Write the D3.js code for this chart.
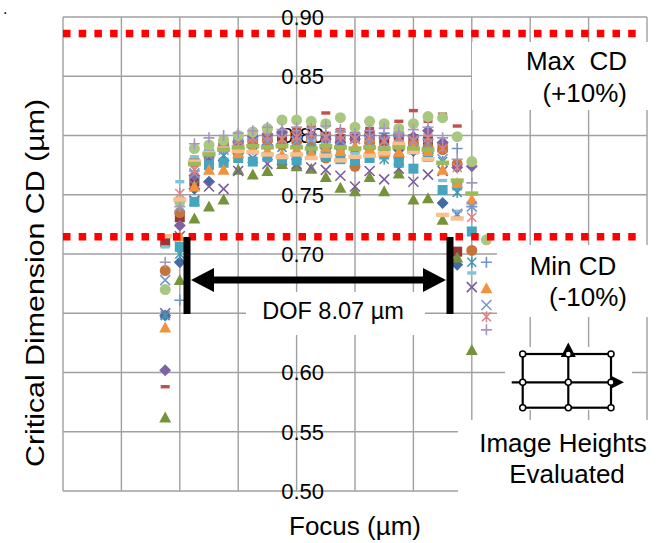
<!DOCTYPE html>
<html>
<head>
<meta charset="utf-8">
<script src="https://cdn.jsdelivr.net/npm/d3@7"></script>
<style>
  body { margin: 0; background: #fff; }
  text { font-family: "Liberation Sans", Arial, sans-serif; fill: #000; white-space: pre; }
</style>
</head>
<body>
<svg id="chart" width="662" height="543"></svg>
<script>
// focus steps (µm) and value axis ticks
const focusSteps = [-4.5, -4, -3.5, -3, -2.5, -2, -1.5, -1, -0.5, 0, 0.5, 1, 1.5, 2, 2.5, 3, 3.5, 4, 4.5, 5, 5.5, 6, 6.5];
const yTicks = [0.50, 0.55, 0.60, 0.65, 0.70, 0.75, 0.80, 0.85, 0.90];
const maxCD = 0.886;
const minCD = 0.7145;
const dofText = "DOF 8.07 µm";

// CD (µm) per image height, one value per focus step (null = not plotted)
const ih01 = [0.648, 0.693, 0.755, 0.761, 0.779, 0.785, 0.790, 0.792, 0.793, 0.791, 0.790, 0.789, 0.790, 0.788, 0.789, 0.790, 0.788, 0.787, 0.785, 0.743, 0.691, null, null];
const ih02 = [0.710, 0.731, 0.761, 0.782, 0.790, 0.795, 0.797, 0.798, 0.799, 0.800, 0.798, 0.799, 0.797, 0.799, 0.800, 0.796, 0.798, 0.797, 0.795, 0.790, 0.702, null, null];
const ih03 = [0.562, 0.678, 0.730, 0.740, 0.746, 0.771, 0.767, 0.770, 0.776, 0.774, 0.772, 0.765, 0.756, 0.753, 0.765, 0.753, 0.768, 0.746, 0.747, 0.729, 0.697, 0.619, null];
const ih04 = [0.650, 0.715, 0.745, 0.757, 0.755, 0.770, 0.781, 0.776, 0.779, 0.776, 0.773, 0.771, 0.766, 0.757, 0.770, 0.763, 0.772, 0.761, 0.767, 0.770, 0.733, 0.672, null];
const ih05 = [0.648, 0.700, 0.758, 0.775, 0.783, 0.786, 0.788, 0.786, 0.790, 0.787, 0.785, 0.789, 0.786, 0.782, 0.787, 0.780, 0.786, 0.788, 0.786, 0.778, 0.752, 0.693, null];
const ih06 = [0.686, 0.735, 0.779, 0.786, 0.792, 0.794, 0.795, 0.796, 0.792, 0.795, 0.796, 0.781, 0.790, 0.774, 0.794, 0.784, 0.782, 0.793, 0.790, 0.788, 0.776, 0.703, null];
const ih07 = [null, 0.661, 0.770, 0.781, 0.789, 0.793, 0.797, 0.800, 0.802, 0.803, 0.801, 0.800, 0.803, 0.800, 0.801, 0.802, 0.799, 0.800, 0.797, 0.794, 0.789, 0.740, 0.693];
const ih08 = [0.588, 0.745, 0.775, 0.792, 0.797, 0.800, 0.804, 0.806, 0.812, 0.806, 0.808, 0.819, 0.805, 0.808, 0.806, 0.807, 0.812, 0.821, 0.812, 0.818, 0.808, null, null];
const ih09 = [0.706, 0.761, 0.782, 0.788, 0.795, 0.799, 0.801, 0.803, 0.800, 0.798, 0.796, 0.793, 0.786, 0.785, 0.784, 0.790, 0.795, 0.788, 0.784, 0.762, 0.736, 0.684, null];
const ih10 = [0.602, 0.724, 0.766, 0.783, 0.791, 0.795, 0.799, 0.801, 0.803, 0.799, 0.800, 0.797, 0.794, 0.797, 0.800, 0.798, 0.801, 0.799, 0.804, 0.794, 0.773, 0.774, null];
const ih11 = [null, 0.706, 0.744, 0.775, 0.777, 0.781, 0.778, 0.782, 0.780, 0.779, 0.788, 0.782, 0.780, 0.779, 0.781, 0.784, 0.777, 0.772, 0.782, 0.754, 0.758, 0.719, null];
const ih12 = [0.638, 0.715, 0.757, 0.771, 0.771, 0.785, 0.789, 0.787, 0.784, 0.788, 0.785, 0.790, 0.787, 0.791, 0.789, 0.786, 0.786, 0.790, 0.787, 0.771, 0.760, 0.746, 0.671];
const ih13 = [0.678, 0.740, 0.768, 0.783, 0.788, 0.792, 0.794, 0.795, 0.797, 0.795, 0.796, 0.798, 0.796, 0.797, 0.795, 0.796, 0.797, 0.795, 0.793, 0.780, 0.734, 0.740, 0.657];
const ih14 = [null, 0.751, 0.771, 0.787, 0.793, 0.796, 0.798, 0.799, 0.797, 0.799, 0.801, 0.799, 0.800, 0.797, 0.798, 0.795, 0.799, 0.796, 0.798, 0.789, 0.773, 0.731, 0.647];
const ih15 = [0.670, 0.744, 0.789, 0.792, 0.796, 0.800, 0.803, 0.806, 0.813, 0.813, 0.812, 0.810, 0.815, 0.807, 0.812, 0.810, 0.806, 0.810, 0.816, 0.815, 0.799, 0.778, 0.712];
const ih16 = [0.693, 0.740, 0.793, 0.798, 0.800, 0.802, 0.804, 0.807, 0.805, 0.807, 0.806, 0.808, 0.805, 0.802, 0.804, 0.806, 0.803, 0.805, 0.807, 0.798, 0.780, 0.760, 0.636];
const ih17 = [0.715, 0.746, 0.778, 0.785, 0.789, 0.787, 0.786, 0.784, 0.782, 0.784, 0.781, 0.783, 0.779, 0.782, 0.783, 0.785, 0.793, 0.786, 0.780, 0.733, 0.730, null, null];
const ih18 = [null, null, 0.776, 0.784, 0.788, 0.790, 0.791, 0.790, 0.791, 0.790, 0.789, 0.791, 0.790, 0.789, 0.790, 0.789, 0.790, 0.789, 0.788, 0.777, 0.762, 0.751, null];

const allSeries = [ih01, ih02, ih03, ih04, ih05, ih06, ih07, ih08, ih09, ih10, ih11, ih12, ih13, ih14, ih15, ih16, ih17, ih18];

// marker look for each series, in Excel's automatic order
const markerStyles = [
  { shape: "diamond", color: "#3f6ca5" },
  { shape: "square", color: "#983836" },
  { shape: "triangle", color: "#76933c" },
  { shape: "x", color: "#7b5e9f" },
  { shape: "star", color: "#3b9ab4" },
  { shape: "circle", color: "#c5753a" },
  { shape: "plus", color: "#6e93ca" },
  { shape: "dash", color: "#c0504d" },
  { shape: "dash", color: "#7fc4db" },
  { shape: "diamond", color: "#7f62a1" },
  { shape: "square", color: "#45a5bf" },
  { shape: "triangle", color: "#f2923f" },
  { shape: "x", color: "#7c97cb" },
  { shape: "star", color: "#d98482" },
  { shape: "circle", color: "#a8c880" },
  { shape: "plus", color: "#a597c2" },
  { shape: "longdash", color: "#f9bf8e" },
  { shape: "longdash", color: "#9bbb59" }
];

const svg = d3.select("#chart");
const margin = { left: 63, right: 15, top: 17, bottom: 52 };
const width = +svg.attr("width");
const height = +svg.attr("height");

const x = d3.scaleLinear().domain([-8, 12]).range([margin.left, width - margin.right]);
const y = d3.scaleLinear().domain([0.5, 0.9]).range([height - margin.bottom, margin.top]);

// gridlines
const grid = svg.append("g");
grid.selectAll(".vg").data(d3.range(-8, 12.01, 2)).enter().append("line")
  .attr("x1", d => x(d)).attr("x2", d => x(d))
  .attr("y1", y(0.9)).attr("y2", y(0.5))
  .attr("stroke", "#a0a0a0").attr("stroke-width", 1.4);
grid.selectAll(".hg").data(yTicks).enter().append("line")
  .attr("x1", x(-8)).attr("x2", x(12))
  .attr("y1", d => y(d)).attr("y2", d => y(d))
  .attr("stroke", "#a0a0a0").attr("stroke-width", 1.4);

// value labels sit on the focus = 0 line (0.65 is hidden under the DOF box)
svg.append("g").selectAll("text").data(yTicks.filter(d => d !== 0.65)).enter().append("text")
  .attr("x", x(0) + 6).attr("y", d => y(d))
  .attr("text-anchor", "middle").attr("dy", "0.36em")
  .style("font-size", "22px")
  .text(d => d.toFixed(2));

// markers
const drawMarker = (g, shape, color) => {
  if (shape === "diamond") {
    g.append("path").attr("d", "M0,-6L6,0L0,6L-6,0Z").attr("fill", color);
  } else if (shape === "square") {
    g.append("rect").attr("x", -5).attr("y", -5).attr("width", 10).attr("height", 10).attr("fill", color);
  } else if (shape === "triangle") {
    g.append("path").attr("d", "M0,-6L6,5L-6,5Z").attr("fill", color);
  } else if (shape === "circle") {
    g.append("circle").attr("r", 5.5).attr("fill", color);
  } else if (shape === "x") {
    g.append("path").attr("d", "M-5,-5L5,5M-5,5L5,-5").attr("stroke", color).attr("stroke-width", 1.6);
  } else if (shape === "star") {
    g.append("path").attr("d", "M-4.5,-4.5L4.5,4.5M-4.5,4.5L4.5,-4.5M0,-5.5L0,5.5").attr("stroke", color).attr("stroke-width", 1.5);
  } else if (shape === "plus") {
    g.append("path").attr("d", "M-5.5,0L5.5,0M0,-5.5L0,5.5").attr("stroke", color).attr("stroke-width", 1.6);
  } else if (shape === "dash") {
    g.append("rect").attr("x", -4.5).attr("y", -1.7).attr("width", 9).attr("height", 3.4).attr("fill", color);
  } else if (shape === "longdash") {
    g.append("rect").attr("x", -6.5).attr("y", -2.2).attr("width", 13).attr("height", 4.4).attr("fill", color);
  }
};

const plot = svg.append("g");
allSeries.forEach((values, i) => {
  const style = markerStyles[i];
  const pts = focusSteps.map((f, j) => ({ f, v: values[j] })).filter(d => d.v != null);
  plot.append("g").selectAll("g").data(pts).enter().append("g")
    .attr("transform", d => `translate(${x(d.f)},${y(d.v)})`)
    .each(function () { drawMarker(d3.select(this), style.shape, style.color); });
});

// spec limits
[maxCD, minCD].forEach(v => {
  svg.append("line")
    .attr("x1", x(-8)).attr("x2", x(11.7))
    .attr("y1", y(v)).attr("y2", y(v))
    .attr("stroke", "#ff0000").attr("stroke-width", 7.5)
    .attr("stroke-dasharray", "7.5 8.2");
});

// text boxes
const box = (bx, by, bw, bh) =>
  svg.append("rect").attr("x", bx).attr("y", by).attr("width", bw).attr("height", bh).attr("fill", "#fff");
const label = (tx, ty, t, anchor, size) =>
  svg.append("text").attr("x", tx).attr("y", ty).attr("text-anchor", anchor || "end")
    .style("font-size", (size || 26) + "px").text(t);

box(472, 42, 190, 68);
label(627, 70, "Max  CD");
label(627, 102, "(+10%)");

box(497, 245, 165, 72);
label(573, 275, "Min CD", "middle");
label(627, 306, "(-10%)");

box(246, 292, 179, 43);
label(333, 319, dofText, "middle", 23.5);

// DOF arrow
const ann = svg.append("g");
const dofY = 280;
ann.append("rect").attr("x", 183.5).attr("y", 237).attr("width", 7).attr("height", 77).attr("fill", "#000");
ann.append("rect").attr("x", 446.5).attr("y", 237).attr("width", 7).attr("height", 77).attr("fill", "#000");
ann.append("line").attr("x1", 205).attr("x2", 425).attr("y1", dofY).attr("y2", dofY)
  .attr("stroke", "#000").attr("stroke-width", 7);
ann.append("path").attr("d", `M191,${dofY}L214,${dofY - 12}L214,${dofY + 12}Z`).attr("fill", "#000");
ann.append("path").attr("d", `M446,${dofY}L423,${dofY - 12}L423,${dofY + 12}Z`).attr("fill", "#000");

// image heights icon
box(505, 347, 127, 63);
const icon = svg.append("g").attr("stroke", "#000").attr("stroke-width", 2.2).attr("fill", "none");
const ix = [522.7, 568.3, 611];
const iy = [354, 382.3, 407.7];
icon.append("rect").attr("x", ix[0]).attr("y", iy[0]).attr("width", ix[2] - ix[0]).attr("height", iy[2] - iy[0]);
icon.append("line").attr("x1", 511.7).attr("x2", 616).attr("y1", iy[1]).attr("y2", iy[1]);
icon.append("line").attr("x1", ix[1]).attr("x2", ix[1]).attr("y1", 350).attr("y2", iy[2]);
svg.append("path").attr("d", `M624,${iy[1]}L610,${iy[1] - 7}L610,${iy[1] + 7}Z`).attr("fill", "#000");
svg.append("path").attr("d", `M${ix[1]},342.5L${ix[1] - 7.5},357L${ix[1] + 7.5},357Z`).attr("fill", "#000");
ix.forEach(cx => iy.forEach(cy => {
  svg.append("circle").attr("cx", cx).attr("cy", cy).attr("r", 3)
    .attr("fill", "#fff").attr("stroke", "#000").attr("stroke-width", 1.5);
}));

box(458, 420, 204, 90);
label(563, 452, "Image Heights", "middle");
label(567, 483, "Evaluated", "middle");

// axis titles
svg.append("text").attr("x", 355).attr("y", 535).attr("text-anchor", "middle")
  .style("font-size", "26px").text("Focus (µm)");
svg.append("text").attr("transform", "translate(44,283) rotate(-90)").attr("text-anchor", "middle")
  .style("font-size", "26px").attr("textLength", 368).attr("lengthAdjust", "spacingAndGlyphs")
  .text("Critical Dimension CD (µm)");

svg.append("text").attr("x", 3).attr("y", 14).style("font-size", "16px").text(".");
</script>
</body>
</html>
